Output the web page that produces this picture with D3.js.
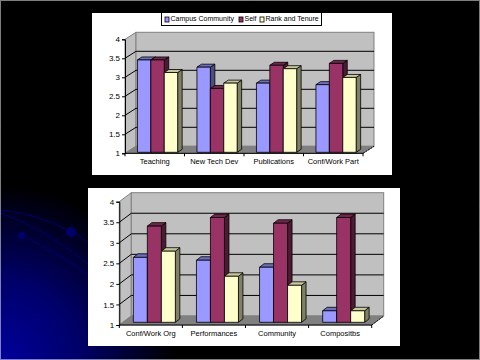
<!DOCTYPE html>
<html>
<head>
<meta charset="utf-8">
<script src="https://cdn.jsdelivr.net/npm/d3@7"></script>
<style>
html, body { margin: 0; padding: 0; background: #000; }
svg { display: block; }
text { font-family: "Liberation Sans", Arial, sans-serif; fill: #000; opacity: 0.999; }
</style>
</head>
<body>
<svg id="slide" width="480" height="360"></svg>
<script>
const seriesNames = ['Campus Community', 'Self', 'Rank and Tenure'];
const yTicks = [1, 1.5, 2, 2.5, 3, 3.5, 4];

const topCategories = ['Teaching', 'New Tech Dev', 'Publications', 'Conf/Work Part'];
const topCampus = [3.43, 3.24, 2.82, 2.78];
const topSelf = [3.43, 2.68, 3.29, 3.34];
const topRank = [3.1, 2.82, 3.2, 2.97];

const bottomCategories = ['Conf/Work Org', 'Performances', 'Community', 'Compositbs'];
const bottomCampus = [2.58, 2.51, 2.34, 1.28];
const bottomSelf = [3.34, 3.55, 3.41, 3.55];
const bottomRank = [2.73, 2.12, 1.9, 1.28];

const barColors = [
	{ front: '#9999ff', top: '#6f6fc0', side: '#4d4d80' },
	{ front: '#993366', top: '#73264d', side: '#4d1a33' },
	{ front: '#ffffcc', top: '#c8c89c', side: '#808066' }
];

const svg = d3.select('#slide');

// background
const defs = svg.append('defs');
const glow = defs.append('radialGradient')
	.attr('id', 'glow')
	.attr('gradientUnits', 'userSpaceOnUse')
	.attr('cx', 0).attr('cy', 360).attr('r', 175);
glow.append('stop').attr('offset', 0).attr('stop-color', '#00009c');
glow.append('stop').attr('offset', 0.45).attr('stop-color', '#00006a');
glow.append('stop').attr('offset', 1).attr('stop-color', '#000');

svg.append('rect').attr('width', 480).attr('height', 360).attr('fill', '#000');
svg.append('rect').attr('width', 480).attr('height', 360).attr('fill', 'url(#glow)');

const swooshes = ['M0,210 Q40,214 71,232 T92,245', 'M0,213 Q45,228 92,267', 'M20,235 Q55,250 92,277'];
svg.selectAll('path.swoosh').data(swooshes).enter().append('path')
	.attr('class', 'swoosh')
	.attr('d', d => d)
	.attr('fill', 'none')
	.attr('stroke', '#000070')
	.attr('stroke-width', 1);
svg.append('circle').attr('cx', 71).attr('cy', 232).attr('r', 5).attr('fill', '#00006e');
svg.append('circle').attr('cx', 21.5).attr('cy', 235.5).attr('r', 3.5).attr('fill', '#00006e');

svg.append('rect')
	.attr('x', 0.5).attr('y', 0.5).attr('width', 479).attr('height', 359)
	.attr('fill', 'none')
	.attr('stroke', '#fff')
	.attr('stroke-dasharray', '1,1');

const drawChart = (cfg, categories, series) => {
	const g = svg.append('g');

	g.append('rect')
		.attr('x', cfg.panel[0]).attr('y', cfg.panel[1])
		.attr('width', cfg.panel[2] - cfg.panel[0]).attr('height', cfg.panel[3] - cfg.panel[1])
		.attr('fill', '#fff');

	const x = d3.scaleBand().domain(categories).range([cfg.left, cfg.right]);
	const y = d3.scaleLinear().domain([1, 4]).range([cfg.bottom, cfg.top]);
	const inner = d3.scaleBand().domain(d3.range(series.length)).range([0, cfg.barWidth * series.length]);
	const groupOffset = (x.step() - inner.range()[1]) / 2 + cfg.barShift;

	const wallLeft = cfg.left + cfg.depthX;
	const wallRight = cfg.right + cfg.depthX;
	const lift = cfg.depthY;

	// walls and floor
	g.append('path')
		.attr('d', d3.line()([[cfg.left, y(1)], [wallLeft, y(1) - lift], [wallLeft, y(4) - lift], [cfg.left, y(4)]]) + 'Z')
		.attr('fill', '#c0c0c0').attr('stroke', '#808080');
	g.append('rect')
		.attr('x', wallLeft).attr('y', y(4) - lift)
		.attr('width', wallRight - wallLeft).attr('height', y(1) - y(4))
		.attr('fill', '#c0c0c0').attr('stroke', '#808080');
	g.append('path')
		.attr('d', d3.line()([[cfg.left, y(1)], [wallLeft, y(1) - lift], [wallRight, y(1) - lift], [cfg.right, y(1)]]) + 'Z')
		.attr('fill', '#808080').attr('stroke', '#808080');

	// gridlines
	const grid = yTicks.slice(1, -1);
	g.selectAll('path.grid').data(grid).enter().append('path')
		.attr('class', 'grid')
		.attr('d', d => d3.line()([[cfg.left, y(d)], [wallLeft, y(d) - lift], [wallRight, y(d) - lift]]))
		.attr('fill', 'none')
		.attr('stroke', '#000');

	// front edge of the floor, right side
	g.append('path')
		.attr('d', d3.line()([[cfg.right, y(1)], [wallRight, y(1) - lift]]))
		.attr('stroke', '#000').attr('stroke-dasharray', '2,1');

	// bars, drawn left to right so each covers the side of the one before
	const barBase = y(1) - cfg.barLift;
	categories.forEach((cat, c) => {
		series.forEach((values, s) => {
			const x0 = x(cat) + groupOffset + inner(s);
			const x1 = x0 + inner.bandwidth();
			const yTop = barBase - (y(1) - y(values[c]));
			const col = barColors[s];
			const dx = cfg.barDepthX;
			const dy = cfg.barDepthY;
			const bar = g.append('g').attr('stroke', '#000').attr('stroke-width', 0.8).attr('stroke-linejoin', 'round');
			bar.append('path')
				.attr('d', d3.line()([[x1, barBase], [x1 + dx, barBase - dy], [x1 + dx, yTop - dy], [x1, yTop]]) + 'Z')
				.attr('fill', col.side);
			bar.append('path')
				.attr('d', d3.line()([[x0, yTop], [x0 + dx, yTop - dy], [x1 + dx, yTop - dy], [x1, yTop]]) + 'Z')
				.attr('fill', col.top);
			bar.append('rect')
				.attr('x', x0).attr('y', yTop)
				.attr('width', x1 - x0).attr('height', barBase - yTop)
				.attr('fill', col.front);
		});
	});

	// axes
	const yAxis = d3.axisLeft(y).tickValues(yTicks).tickSize(3).tickFormat(d3.format('~g'));
	const yG = g.append('g').attr('transform', `translate(${cfg.left},0)`).call(yAxis);
	yG.select('.domain').attr('stroke', '#000');
	yG.selectAll('.tick line').attr('stroke', '#000');
	yG.selectAll('text').attr('font-size', 8).attr('x', -5);

	const bottomLine = d3.range(categories.length + 1).map(i => cfg.left + i * x.step());
	g.append('line')
		.attr('x1', cfg.left).attr('x2', cfg.right)
		.attr('y1', y(1)).attr('y2', y(1))
		.attr('stroke', '#000');
	g.selectAll('line.xtick').data(bottomLine).enter().append('line')
		.attr('class', 'xtick')
		.attr('x1', d => d).attr('x2', d => d)
		.attr('y1', y(1)).attr('y2', y(1) + 3)
		.attr('stroke', '#000');
	g.selectAll('text.cat').data(categories).enter().append('text')
		.attr('class', 'cat')
		.attr('x', d => x(d) + x.step() / 2)
		.attr('y', y(1) + 11)
		.attr('text-anchor', 'middle')
		.attr('font-size', 7.5)
		.text(d => d);
};

drawChart({
	panel: [92, 13, 392, 175],
	left: 125, right: 363, top: 39.3, bottom: 153.3,
	depthX: 11, depthY: 7,
	barWidth: 13.4, barShift: 2.8, barLift: 1,
	barDepthX: 4.5, barDepthY: 3
}, topCategories, [topCampus, topSelf, topRank]);

drawChart({
	panel: [88, 188, 400, 346],
	left: 119.3, right: 371.7, top: 201.7, bottom: 325,
	depthX: 12, depthY: 9,
	barWidth: 14, barShift: 3.5, barLift: 2.7,
	barDepthX: 4.5, barDepthY: 3.5
}, bottomCategories, [bottomCampus, bottomSelf, bottomRank]);

// legend for the top chart
const legend = svg.append('g');
legend.append('rect')
	.attr('x', 161.5).attr('y', 12.5).attr('width', 160).attr('height', 13)
	.attr('fill', '#fff').attr('stroke', '#000');
const legendX = [165, 239, 260];
const legendItems = legend.selectAll('g').data(seriesNames).enter().append('g')
	.attr('transform', (d, i) => `translate(${legendX[i]},0)`);
legendItems.append('rect')
	.attr('x', 0).attr('y', 17).attr('width', 4).attr('height', 5)
	.attr('fill', (d, i) => barColors[i].front)
	.attr('stroke', '#000').attr('stroke-width', 0.8);
legendItems.append('text')
	.attr('x', 5.5).attr('y', 21)
	.attr('font-size', 7)
	.text(d => d);
</script>
</body>
</html>
